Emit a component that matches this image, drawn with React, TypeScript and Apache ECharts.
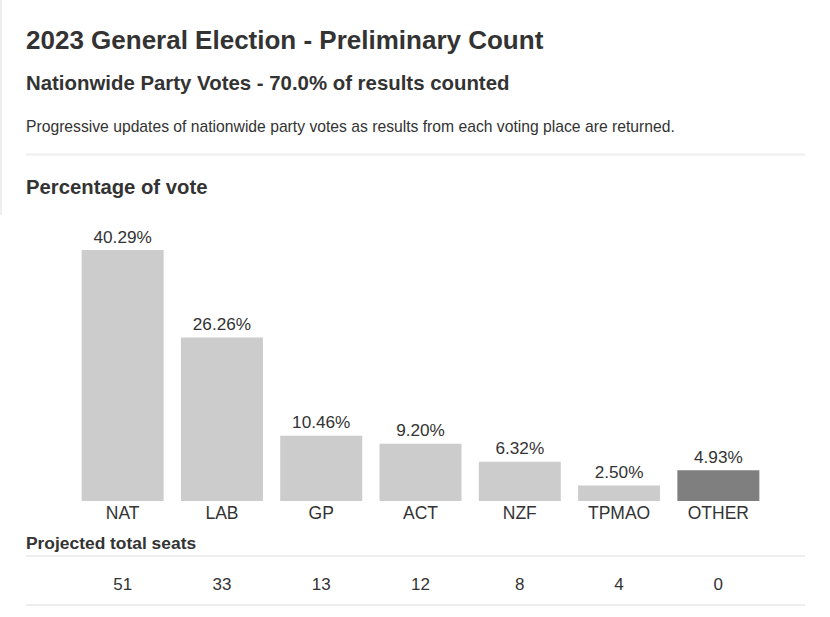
import React, { useEffect, useRef } from "react";
import * as echarts from "echarts";

const parties = ["NAT", "LAB", "GP", "ACT", "NZF", "TPMAO", "OTHER"];
const votePct = [40.29, 26.26, 10.46, 9.2, 6.32, 2.5, 4.93];
const seats = [51, 33, 13, 12, 8, 4, 0];
const barColors = ["#cccccc", "#cccccc", "#cccccc", "#cccccc", "#cccccc", "#cccccc", "#7f7f7f"];

const FONT = "'Liberation Sans', Arial, sans-serif";

export default function App() {
  const ref = useRef<HTMLDivElement>(null);
  useEffect(() => {
    if (!ref.current) return;
    const chart = echarts.init(ref.current, undefined, { renderer: "svg" });
    chart.setOption({
      animation: false,
      backgroundColor: "#ffffff",
      textStyle: { fontFamily: FONT },
      grid: [
        { left: 73, width: 695, top: 227, bottom: 116 },
        { left: 73, width: 695, top: 565, height: 40 },
      ],
      xAxis: [
        {
          type: "category",
          gridIndex: 0,
          data: parties,
          axisLine: { show: false },
          axisTick: { show: false },
          axisLabel: { color: "#333", fontSize: 17.5, margin: 3, fontFamily: FONT },
        },
        {
          type: "category",
          gridIndex: 1,
          data: seats.map(String),
          position: "top",
          axisLine: { show: false },
          axisTick: { show: false },
          axisLabel: { color: "#333", fontSize: 17, margin: -28, fontFamily: FONT },
        },
      ],
      yAxis: [
        { type: "value", gridIndex: 0, min: 0, max: 44, show: false },
        { type: "value", gridIndex: 1, show: false },
      ],
      series: [
        {
          type: "bar",
          xAxisIndex: 0,
          yAxisIndex: 0,
          barWidth: 82,
          data: votePct.map((v, i) => ({ value: v, itemStyle: { color: barColors[i] } })),
          label: {
            show: true,
            position: "top",
            distance: 5,
            color: "#333",
            fontSize: 17.2,
            fontFamily: FONT,
            formatter: (p: any) => p.value.toFixed(2) + "%",
          },
        },
      ],
      graphic: [
        { type: "line", shape: { x1: 1, y1: 0, x2: 1, y2: 215 }, style: { stroke: "#eeeeee", lineWidth: 2 } },
        {
          type: "text", x: 26, y: 40,
          style: { text: "2023 General Election - Preliminary Count", fontSize: 26, fontWeight: "bold", fill: "#333", fontFamily: FONT, verticalAlign: "middle" },
        },
        {
          type: "text", x: 26, y: 83,
          style: { text: "Nationwide Party Votes - 70.0% of results counted", fontSize: 20.4, fontWeight: "bold", fill: "#333", fontFamily: FONT, verticalAlign: "middle" },
        },
        {
          type: "text", x: 26, y: 126,
          style: { text: "Progressive updates of nationwide party votes as results from each voting place are returned.", fontSize: 15.7, fill: "#333", fontFamily: FONT, verticalAlign: "middle" },
        },
        { type: "line", shape: { x1: 26, y1: 154.5, x2: 805, y2: 154.5 }, style: { stroke: "#eeeeee", lineWidth: 2 } },
        {
          type: "text", x: 26, y: 187,
          style: { text: "Percentage of vote", fontSize: 20.3, fontWeight: "bold", fill: "#333", fontFamily: FONT, verticalAlign: "middle" },
        },
        {
          type: "text", x: 26, y: 543,
          style: { text: "Projected total seats", fontSize: 17.4, fontWeight: "bold", fill: "#333", fontFamily: FONT, verticalAlign: "middle" },
        },
        { type: "line", shape: { x1: 26, y1: 556, x2: 805, y2: 556 }, style: { stroke: "#eeeeee", lineWidth: 2 } },
        { type: "line", shape: { x1: 26, y1: 605, x2: 805, y2: 605 }, style: { stroke: "#eeeeee", lineWidth: 2 } },
      ],
    });
    return () => chart.dispose();
  }, []);
  return <div ref={ref} style={{ position: "fixed", left: 0, top: 0, width: 830, height: 617 }} />;
}
